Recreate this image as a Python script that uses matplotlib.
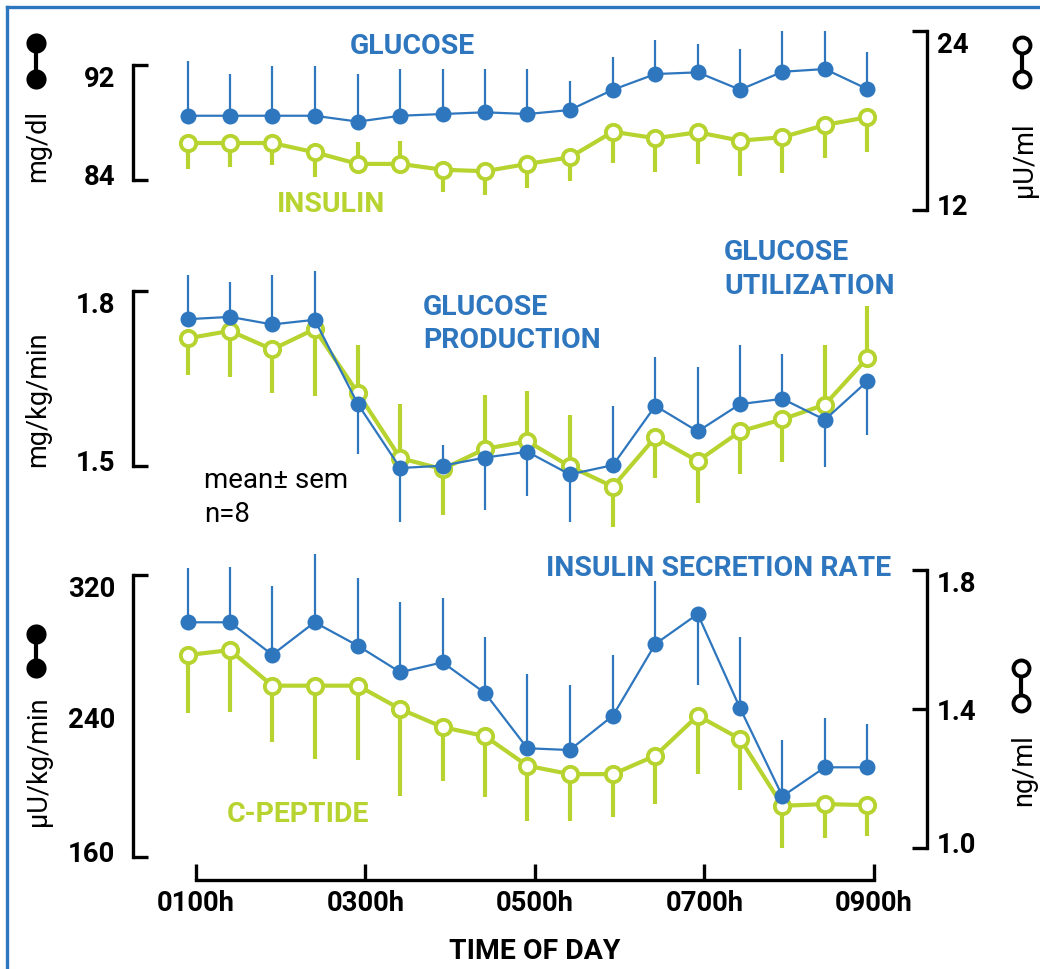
import matplotlib
matplotlib.use('Agg')
import matplotlib.pyplot as plt
from matplotlib.lines import Line2D
from matplotlib.transforms import ScaledTranslation
import numpy as np

plt.rcParams['font.family'] = ['Roboto', 'DejaVu Sans']

BLUE = '#2e76be'
GREEN = '#b6d330'

# ---------------- data ----------------
time_h = [0.90, 1.40, 1.90, 2.40, 2.91, 3.41, 3.91, 4.41, 4.91,
          5.41, 5.92, 6.42, 6.92, 7.42, 7.92, 8.42, 8.92]
x_ticks = [1, 3, 5, 7, 9]
x_ticklabels = ['0100h', '0300h', '0500h', '0700h', '0900h']

# panel 1: plasma glucose (mg/dl, left) and insulin (uU/ml, right)
glucose = [88.47, 88.47, 88.47, 88.47, 88.06, 88.47, 88.59, 88.71, 88.59,
           88.87, 90.28, 91.37, 91.49, 90.28, 91.53, 91.72, 90.33]
glucose_sem = [3.78, 2.88, 3.46, 3.46, 3.30, 3.25, 3.13, 3.01, 3.13,
               2.02, 2.27, 2.37, 1.97, 2.83, 2.81, 2.62, 2.57]
glucose_dir = [1] * 17
insulin = [16.47, 16.47, 16.47, 15.85, 15.07, 15.07, 14.68, 14.58, 15.07,
           15.51, 17.23, 16.79, 17.19, 16.63, 16.86, 17.68, 18.20]
insulin_sem = [1.74, 1.59, 1.45, 1.64, 1.45, 1.56, 1.47, 1.57, 1.61,
               1.57, 2.10, 2.24, 2.12, 2.35, 2.39, 2.19, 2.31]
insulin_dir = [-1, -1, -1, -1, 1, 1, -1, -1, -1, -1, -1, -1, -1, -1, -1, -1, -1]

# panel 2: glucose production / utilization (mg/kg/min)
gprod = [1.752, 1.756, 1.743, 1.751, 1.606, 1.496, 1.500, 1.514, 1.524,
         1.485, 1.501, 1.603, 1.559, 1.606, 1.615, 1.579, 1.645]
gprod_sem = [0.076, 0.060, 0.085, 0.084, 0.086, 0.092, 0.036, 0.091, 0.076,
             0.081, 0.101, 0.084, 0.110, 0.101, 0.077, 0.082, 0.092]
gprod_dir = [1, 1, 1, 1, -1, -1, 1, -1, -1, -1, 1, 1, 1, 1, 1, -1, -1]
gutil = [1.719, 1.732, 1.700, 1.735, 1.625, 1.513, 1.494, 1.529, 1.542,
         1.499, 1.464, 1.549, 1.508, 1.559, 1.580, 1.605, 1.685]
gutil_sem = [0.063, 0.079, 0.075, 0.115, 0.083, 0.093, 0.079, 0.092, 0.086,
             0.088, 0.069, 0.071, 0.073, 0.073, 0.073, 0.103, 0.089]
gutil_dir = [-1, -1, -1, -1, 1, 1, -1, 1, 1, 1, -1, -1, -1, -1, -1, 1, 1]

# panel 3: insulin secretion rate (uU/kg/min, left) and C-peptide (ng/ml, right)
isr = [293.2, 293.2, 274.8, 293.2, 279.9, 264.9, 270.5, 253.1, 221.8,
       220.8, 240.3, 280.9, 297.9, 244.5, 194.6, 211.0, 211.0]
isr_sem = [30.6, 31.2, 38.8, 38.7, 38.2, 39.7, 36.3, 31.6, 42.1,
           36.8, 34.4, 35.9, 40.1, 40.2, 31.9, 27.9, 24.5]
isr_dir = [1, 1, 1, 1, 1, 1, 1, 1, 1, 1, 1, 1, -1, 1, 1, 1, 1]
cpep = [1.555, 1.569, 1.467, 1.467, 1.467, 1.400, 1.348, 1.322, 1.237,
        1.213, 1.213, 1.266, 1.381, 1.314, 1.122, 1.127, 1.124]
cpep_sem = [0.167, 0.177, 0.161, 0.210, 0.213, 0.249, 0.156, 0.175, 0.158,
            0.134, 0.124, 0.139, 0.167, 0.146, 0.122, 0.098, 0.088]
cpep_dir = [-1] * 17

# ---------------- layout helpers ----------------
W, H = 1040, 970
fig = plt.figure(figsize=(W / 100, H / 100), dpi=100)
LEFT_PX, RIGHT_PX = 133, 927
X0_PX, X1_PX = 196, 874          # pixel positions of 0100h and 0900h
pxh = (X1_PX - X0_PX) / 8.0
XLIM = (1 - (X0_PX - LEFT_PX) / pxh, 9 + (RIGHT_PX - X1_PX) / pxh)


def add_ax(top, bottom):
    return fig.add_axes([LEFT_PX / W, 1 - bottom / H,
                         (RIGHT_PX - LEFT_PX) / W, (bottom - top) / H])


def fit_ylim(ax, top_px, bot_px, pa, va, pb, vb):
    s = (va - vb) / (pb - pa)
    ax.set_ylim(vb - (bot_px - pb) * s, va + (pa - top_px) * s)


def dpx(p):
    return ScaledTranslation(0, p / 100.0, fig.dpi_scale_trans)


def style_y(ax, side, bounds, ticks, labels, pad, hidetick=None):
    for s in ax.spines.values():
        s.set_visible(False)
    sp = ax.spines[side]
    sp.set_visible(True)
    sp.set_bounds(*bounds)
    sp.set_linewidth(2.4)
    sp.set_capstyle('projecting')
    ax.yaxis.set_ticks_position(side)
    ax.set_yticks(ticks)
    ax.set_yticklabels(labels)
    ax.tick_params(axis='y', which='both', direction='in', length=10.5,
                   width=2.4, pad=pad, labelsize=19.8,
                   left=(side == 'left'), right=(side == 'right'),
                   labelleft=(side == 'left'), labelright=(side == 'right'))
    tls = ax.get_yticklabels()
    for t in tls:
        t.set_fontweight('bold')
    # top label hangs below its tick, bottom label sits on its tick
    tls[-1].set_va('top')
    tls[0].set_va('baseline')
    tls[0].set_transform(tls[0].get_transform() + dpx(-4))
    if hidetick is not None:
        ticks_obj = ax.yaxis.get_major_ticks()
        ticks_obj[hidetick].tick1line.set_visible(False)
        ticks_obj[hidetick].tick2line.set_visible(False)


def series(ax, y, sem, direction, color, filled, z):
    y = np.asarray(y)
    sem = np.asarray(sem)
    d = np.asarray(direction)
    lo = np.where(d < 0, sem, 0.0)
    hi = np.where(d > 0, sem, 0.0)
    if filled:
        ax.errorbar(time_h, y, yerr=[lo, hi], fmt='none', ecolor=color,
                    elinewidth=1.6, capsize=0, zorder=z, clip_on=False)
        ax.plot(time_h, y, '-', color=color, lw=1.6, marker='o', ms=11.5,
                mfc=color, mec=color, mew=0, zorder=z + 0.1, clip_on=False)
    else:
        ax.errorbar(time_h, y, yerr=[lo, hi], fmt='none', ecolor=color,
                    elinewidth=3.0, capsize=0, zorder=z, clip_on=False)
        ax.plot(time_h, y, '-', color=color, lw=3.0, marker='o', ms=11,
                mfc='white', mec=color, mew=2.8, zorder=z + 0.1, clip_on=False)


def no_x(ax):
    ax.set_xlim(*XLIM)
    ax.set_xticks([])
    ax.patch.set_visible(False)


# ---------------- panel 1 ----------------
P1T, P1B = 15, 230
a1 = add_ax(P1T, P1B)
b1 = a1.twinx()
no_x(a1); no_x(b1)
fit_ylim(a1, P1T, P1B, 66, 92, 181, 84)
fit_ylim(b1, P1T, P1B, 31.7, 24, 210.7, 12)
style_y(a1, 'left', (84, 92), [84, 92], ['84', '92'], pad=13)
style_y(b1, 'right', (12, 24), [12, 24], ['12', '24'], pad=7)
series(a1, glucose, glucose_sem, glucose_dir, BLUE, True, 3)
series(b1, insulin, insulin_sem, insulin_dir, GREEN, False, 3)

# ---------------- panel 2 ----------------
P2T, P2B = 235, 545
a2 = add_ax(P2T, P2B)
no_x(a2)
fit_ylim(a2, P2T, P2B, 292.3, 1.8, 466.7, 1.5)
style_y(a2, 'left', (1.5, 1.8), [1.5, 1.8], ['1.5', '1.8'], pad=13)
series(a2, gutil, gutil_sem, gutil_dir, GREEN, False, 3)
series(a2, gprod, gprod_sem, gprod_dir, BLUE, True, 5)

# ---------------- panel 3 ----------------
P3T, P3B = 550, 880.7
a3 = add_ax(P3T, P3B)
b3 = a3.twinx()
a3.set_xlim(*XLIM)
b3.set_xlim(*XLIM)
fit_ylim(a3, P3T, P3B, 576, 320, 858.3, 160)
fit_ylim(b3, P3T, P3B, 570.7, 1.8, 849.3, 1.0)
style_y(a3, 'left', (160, 320), [160, 240, 320], ['160', '240', '320'],
        pad=13, hidetick=1)
style_y(b3, 'right', (1.0, 1.8), [1.0, 1.4, 1.8], ['1.0', '1.4', '1.8'], pad=7)
a3.set_zorder(b3.get_zorder() + 1)
a3.patch.set_visible(False)
b3.patch.set_visible(False)
a3.spines['bottom'].set_visible(True)
a3.spines['bottom'].set_bounds(1, 9)
a3.spines['bottom'].set_linewidth(2.4)
a3.spines['bottom'].set_capstyle('projecting')
a3.set_xticks(x_ticks)
a3.set_xticklabels(x_ticklabels)
a3.tick_params(axis='x', direction='in', length=11.5, width=2.4, pad=7,
               labelsize=19.8)
for t in a3.get_xticklabels():
    t.set_fontweight('bold')
series(b3, cpep, cpep_sem, cpep_dir, GREEN, False, 3)
series(a3, isr, isr_sem, isr_dir, BLUE, True, 5)


# ---------------- texts & decorations ----------------
def ftext(x, y, s, **kw):
    fig.text(x / W, 1 - y / H, s, **kw)


bold_kw = dict(fontsize=20.4, fontweight='bold', va='center')
ftext(412, 46, 'GLUCOSE', color=BLUE, ha='center', **bold_kw)
ftext(331, 204, 'INSULIN', color=GREEN, ha='center', **bold_kw)
ftext(423, 307.5, 'GLUCOSE', color=BLUE, ha='left', **bold_kw)
ftext(423, 341, 'PRODUCTION', color=BLUE, ha='left', **bold_kw)
ftext(724, 253, 'GLUCOSE', color=BLUE, ha='left', **bold_kw)
ftext(724, 287, 'UTILIZATION', color=BLUE, ha='left', **bold_kw)
ftext(546, 568, 'INSULIN SECRETION RATE', color=BLUE, ha='left', **bold_kw)
ftext(227, 815, 'C-PEPTIDE', color=GREEN, ha='left', **bold_kw)
ftext(535, 952, 'TIME OF DAY', color='black', ha='center', **bold_kw)

ftext(204, 481, 'mean\u00b1 sem', fontsize=20, color='black', ha='left', va='center')
ftext(204, 514, 'n=8', fontsize=20, color='black', ha='left', va='center')

unit_kw = dict(fontsize=19.5, color='black', rotation=90, ha='center', va='center')
ftext(38, 146, 'mg/dl', **unit_kw)
ftext(1024, 160, '\u03bcU/ml', **unit_kw)
ftext(38, 399, 'mg/kg/min', **unit_kw)
ftext(38, 761, '\u03bcU/kg/min', **unit_kw)
ftext(1024, 770, 'ng/ml', **unit_kw)


def legend_icon(x, y1, y2, filled):
    xs = [x / W, x / W]
    ys = [1 - y1 / H, 1 - y2 / H]
    fig.add_artist(Line2D(xs, ys, color='black', lw=3, zorder=1))
    if filled:
        fig.add_artist(Line2D(xs, ys, ls='none', marker='o', ms=14.5,
                              mfc='black', mec='black', mew=0, zorder=2))
    else:
        fig.add_artist(Line2D(xs, ys, ls='none', marker='o', ms=11.5,
                              mfc='white', mec='black', mew=2.8, zorder=2))


legend_icon(36, 44, 80, True)
legend_icon(1022, 46, 80, False)
legend_icon(36, 635, 669, True)
legend_icon(1021, 669, 704, False)

# blue frame (left and top edges)
fig.add_artist(Line2D([7 / W, 7 / W], [1 - 8 / H, 0], color=BLUE, lw=2.4))
fig.add_artist(Line2D([7 / W, 1], [1 - 8 / H, 1 - 8 / H], color=BLUE, lw=2.4))

fig.savefig('out.png', dpi=100)
